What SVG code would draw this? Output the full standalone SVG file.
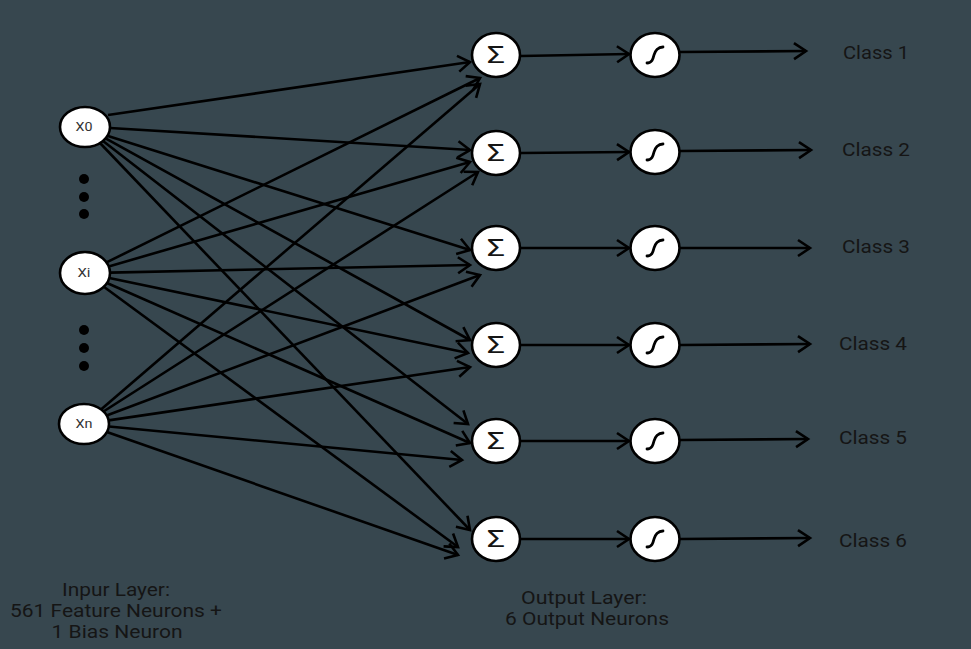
<svg xmlns="http://www.w3.org/2000/svg" width="971" height="649" viewBox="0 0 971 649">
<defs>
<marker id="ah" markerUnits="userSpaceOnUse" markerWidth="20" markerHeight="20" viewBox="-14 -10 20 20" refX="0" refY="0" orient="auto">
<path d="M-12,-8 L0,0 L-12,8" fill="none" stroke="#000" stroke-width="2.6" stroke-linejoin="miter"/>
</marker>
<style>
.bg{fill:#37474f}
.n{fill:#fff;stroke:#000;stroke-width:2.6}
.c line{stroke:#000;stroke-width:2.6;marker-end:url(#ah)}
.t{font-family:Roboto,"Liberation Sans",sans-serif;fill:#151515}
.lbl{font-size:19px}
.bl{font-size:17.5px}
.in{font-size:12px;fill:#333}
.sig{font-size:24px}
.sg{fill:none;stroke:#000;stroke-width:2.8;stroke-linecap:round}
.dot{fill:#000}
</style>
</defs>
<rect class="bg" x="0" y="0" width="971" height="649"/>
<g id="connectors" class="c">
<line x1="108" y1="115" x2="470" y2="62"/>
<line x1="110" y1="128" x2="470" y2="150"/>
<line x1="108" y1="136" x2="470" y2="250"/>
<line x1="105.6" y1="138.4" x2="470" y2="340"/>
<line x1="103" y1="141" x2="468" y2="424"/>
<line x1="100" y1="143" x2="470" y2="530"/>
<line x1="106.5" y1="262.4" x2="480" y2="78"/>
<line x1="108.7" y1="266.4" x2="470" y2="162"/>
<line x1="110" y1="272.6" x2="470" y2="265"/>
<line x1="109.3" y1="278" x2="468" y2="353"/>
<line x1="107" y1="283" x2="470" y2="443"/>
<line x1="103.8" y1="286.8" x2="458" y2="547"/>
<line x1="101" y1="409.4" x2="480" y2="84"/>
<line x1="103.5" y1="411.5" x2="478" y2="172"/>
<line x1="106.6" y1="415.5" x2="480" y2="275"/>
<line x1="108.6" y1="420.4" x2="470" y2="367"/>
<line x1="109" y1="426.5" x2="462" y2="460"/>
<line x1="106.9" y1="432" x2="458" y2="555"/>
<line x1="521" y1="56" x2="629" y2="54"/>
<line x1="521" y1="153" x2="629" y2="152"/>
<line x1="521" y1="248" x2="629" y2="248"/>
<line x1="521" y1="345" x2="629" y2="345"/>
<line x1="521" y1="441" x2="629" y2="441"/>
<line x1="521" y1="539" x2="629" y2="539"/>
<line x1="680" y1="52" x2="806" y2="51"/>
<line x1="680" y1="151" x2="811" y2="150"/>
<line x1="680" y1="248" x2="810" y2="248"/>
<line x1="680" y1="345" x2="810" y2="344"/>
<line x1="680" y1="440" x2="808" y2="439"/>
<line x1="680" y1="539" x2="810" y2="538"/>
</g>
<g id="dots1"><circle class="dot" cx="84" cy="179" r="5"/><circle class="dot" cx="84" cy="197" r="5"/><circle class="dot" cx="84" cy="214" r="5"/></g>
<g id="dots2"><circle class="dot" cx="84" cy="330" r="5"/><circle class="dot" cx="84" cy="348" r="5"/><circle class="dot" cx="84" cy="366" r="5"/></g>
<g id="x0"><ellipse class="n" cx="85" cy="127" rx="25" ry="20"/><text class="t in" x="84" y="131" text-anchor="middle" textLength="17" lengthAdjust="spacingAndGlyphs">X0</text></g>
<g id="xi"><ellipse class="n" cx="85" cy="273" rx="25" ry="21"/><text class="t in" x="84" y="277" text-anchor="middle" textLength="13" lengthAdjust="spacingAndGlyphs">Xi</text></g>
<g id="xn"><ellipse class="n" cx="84" cy="424" rx="25" ry="20"/><text class="t in" x="84" y="428" text-anchor="middle" textLength="17" lengthAdjust="spacingAndGlyphs">Xn</text></g>
<g id="s1"><ellipse class="n" cx="496" cy="55" rx="24" ry="22"/><text class="t sig" x="496" y="63" text-anchor="middle" textLength="18" lengthAdjust="spacingAndGlyphs">Σ</text></g>
<g id="s2"><ellipse class="n" cx="496" cy="153" rx="24" ry="22"/><text class="t sig" x="496" y="161" text-anchor="middle" textLength="18" lengthAdjust="spacingAndGlyphs">Σ</text></g>
<g id="s3"><ellipse class="n" cx="496" cy="248" rx="24" ry="22"/><text class="t sig" x="496" y="256" text-anchor="middle" textLength="18" lengthAdjust="spacingAndGlyphs">Σ</text></g>
<g id="s4"><ellipse class="n" cx="496" cy="345" rx="24" ry="22"/><text class="t sig" x="496" y="353" text-anchor="middle" textLength="18" lengthAdjust="spacingAndGlyphs">Σ</text></g>
<g id="s5"><ellipse class="n" cx="496" cy="441" rx="24" ry="22"/><text class="t sig" x="496" y="449" text-anchor="middle" textLength="18" lengthAdjust="spacingAndGlyphs">Σ</text></g>
<g id="s6"><ellipse class="n" cx="496" cy="539" rx="24" ry="22"/><text class="t sig" x="496" y="547" text-anchor="middle" textLength="18" lengthAdjust="spacingAndGlyphs">Σ</text></g>
<g id="a1"><ellipse class="n" cx="655" cy="55" rx="24.5" ry="22"/><path class="sg" transform="translate(655,55)" d="M-8,8 C-3,8 -2,4 -1,0 S3,-8 8,-8"/></g>
<g id="a2"><ellipse class="n" cx="655" cy="152" rx="24.5" ry="22"/><path class="sg" transform="translate(655,152)" d="M-8,8 C-3,8 -2,4 -1,0 S3,-8 8,-8"/></g>
<g id="a3"><ellipse class="n" cx="655" cy="248" rx="24.5" ry="22"/><path class="sg" transform="translate(655,248)" d="M-8,8 C-3,8 -2,4 -1,0 S3,-8 8,-8"/></g>
<g id="a4"><ellipse class="n" cx="655" cy="345" rx="24.5" ry="22"/><path class="sg" transform="translate(655,345)" d="M-8,8 C-3,8 -2,4 -1,0 S3,-8 8,-8"/></g>
<g id="a5"><ellipse class="n" cx="655" cy="441" rx="24.5" ry="22"/><path class="sg" transform="translate(655,441)" d="M-8,8 C-3,8 -2,4 -1,0 S3,-8 8,-8"/></g>
<g id="a6"><ellipse class="n" cx="655" cy="539" rx="24.5" ry="22"/><path class="sg" transform="translate(655,539)" d="M-8,8 C-3,8 -2,4 -1,0 S3,-8 8,-8"/></g>
<g id="c1"><text class="t lbl" x="843" y="59" textLength="66" lengthAdjust="spacingAndGlyphs">Class 1</text></g>
<g id="c2"><text class="t lbl" x="842" y="156" textLength="68" lengthAdjust="spacingAndGlyphs">Class 2</text></g>
<g id="c3"><text class="t lbl" x="842" y="253" textLength="68" lengthAdjust="spacingAndGlyphs">Class 3</text></g>
<g id="c4"><text class="t lbl" x="839" y="350" textLength="68" lengthAdjust="spacingAndGlyphs">Class 4</text></g>
<g id="c5"><text class="t lbl" x="839" y="444" textLength="68" lengthAdjust="spacingAndGlyphs">Class 5</text></g>
<g id="c6"><text class="t lbl" x="839" y="547" textLength="68" lengthAdjust="spacingAndGlyphs">Class 6</text></g>
<g id="inlabel"><text class="t bl" x="116" y="596" text-anchor="middle" textLength="108" lengthAdjust="spacingAndGlyphs">Inpur Layer:</text><text class="t bl" x="116" y="617" text-anchor="middle" textLength="212" lengthAdjust="spacingAndGlyphs">561 Feature Neurons +</text><text class="t bl" x="117" y="638" text-anchor="middle" textLength="131" lengthAdjust="spacingAndGlyphs">1 Bias Neuron</text></g>
<g id="outlabel"><text class="t bl" x="584" y="604" text-anchor="middle" textLength="126" lengthAdjust="spacingAndGlyphs">Output Layer:</text><text class="t bl" x="587" y="625" text-anchor="middle" textLength="164" lengthAdjust="spacingAndGlyphs">6 Output Neurons</text></g>
</svg>
